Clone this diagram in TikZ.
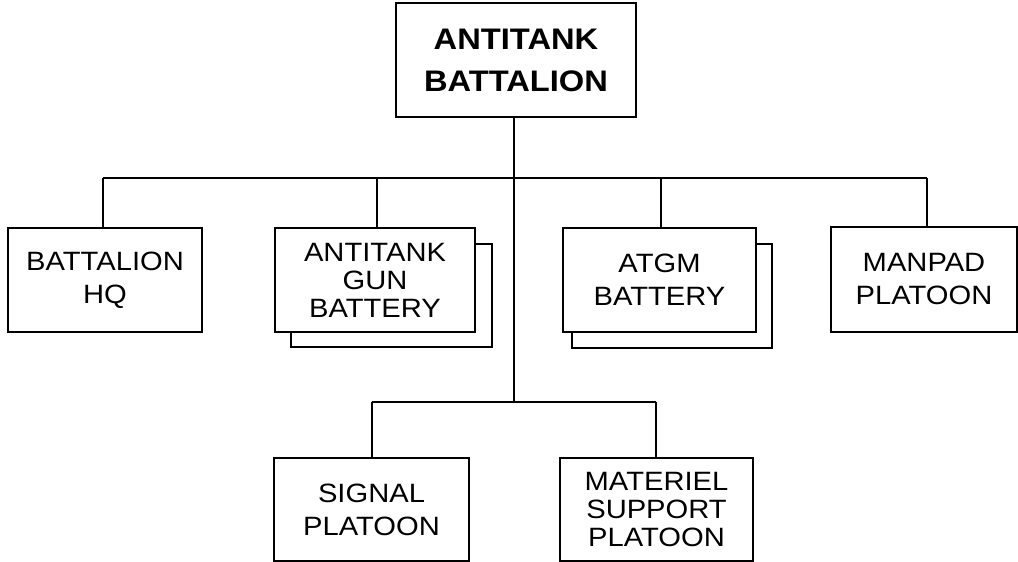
\documentclass[tikz,border=0pt]{standalone}
\usepackage{fontspec}
\setmainfont{Liberation Sans}[FakeStretch=1.1]
\begin{document}
\begin{tikzpicture}[x=1pt,y=-1pt,
  line width=1.6pt,
  unitbox/.style={draw=black, fill=white, rectangle, inner sep=0pt, align=center,
    font=\fontsize{26.5}{33}\selectfont},
  threeline/.style={font=\fontsize{26.5}{28}\selectfont},
  shadowbox/.style={draw=black, fill=white, rectangle, inner sep=0pt},
  link/.style={draw=black, line width=1.6pt}]
\useasboundingbox (0,0) rectangle (1018,562);
\fill[white] (0,0) rectangle (1018,562);

% top
\node[unitbox, minimum width=240pt, minimum height=114pt,
  font=\bfseries\fontsize{29.7}{42}\selectfont] (top) at (516,60) {ANTITANK\\BATTALION};

% shadows
\node[shadowbox, minimum width=201pt, minimum height=103pt] (atgsh) at (391.5,295.5) {};
\node[shadowbox, minimum width=200pt, minimum height=104pt] (atgmsh) at (672,296) {};

% second row
\node[unitbox, minimum width=194pt, minimum height=104pt] (hq) at (105,280) {BATTALION\\HQ};
\node[unitbox, threeline, minimum width=200pt, minimum height=104pt] (atg) at (375,280) {ANTITANK\\GUN\\BATTERY};
\node[unitbox, minimum width=193pt, minimum height=104pt] (atgm) at (659.5,280) {ATGM\\BATTERY};
\node[unitbox, minimum width=186pt, minimum height=105pt] (manpad) at (924,279.5) {MANPAD\\PLATOON};

% third row
\node[unitbox, minimum width=195pt, minimum height=103pt] (signal) at (371.5,509.5) {SIGNAL\\PLATOON};
\node[unitbox, threeline, minimum width=193pt, minimum height=103pt] (materiel) at (656.5,509.5) {MATERIEL\\SUPPORT\\PLATOON};

% junctions
\coordinate (spine) at (514,117);
\coordinate (bar) at (514,178);
\coordinate (jhq) at (103,178);
\coordinate (jatg) at (377,178);
\coordinate (jatgm) at (661,178);
\coordinate (jman) at (927,178);
\coordinate (lbar) at (514,402);
\coordinate (jsig) at (372,402);
\coordinate (jmat) at (656,402);

\draw[link] (spine) -- (lbar);
\draw[link] (jhq) -- (jman);
\draw[link] (jhq) -- (jhq |- hq.north);
\draw[link] (jatg) -- (jatg |- atg.north);
\draw[link] (jatgm) -- (jatgm |- atgm.north);
\draw[link] (jman) -- (jman |- manpad.north);
\draw[link] (jsig) -- (jmat);
\draw[link] (jsig) -- (jsig |- signal.north);
\draw[link] (jmat) -- (jmat |- materiel.north);
\end{tikzpicture}
\end{document}
